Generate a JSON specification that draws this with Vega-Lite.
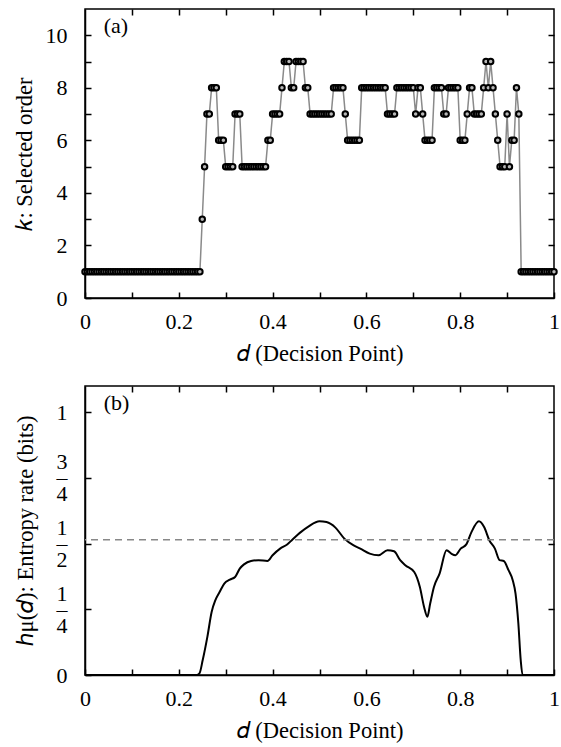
{
  "$schema": "https://vega.github.io/schema/vega-lite/v6.json",
  "padding": {"left": 12, "top": 7, "right": 0, "bottom": 0},
  "spacing": 18,
  "align": "all",
  "config": {
    "font": "Liberation Serif",
    "view": {"stroke": "#000", "strokeWidth": 1.5},
    "axis": {
      "grid": false, "domainColor": "#000", "domainWidth": 1.5,
      "tickColor": "#000", "tickWidth": 1.5, "tickSize": -6,
      "labelFontSize": 22, "titleFontSize": 22.5, "titleFontWeight": "normal",
      "labelColor": "#000", "titleColor": "#000",
      "labelFont": "Liberation Serif", "titleFont": "Liberation Serif",
      "labelOverlap": false, "labelBound": false, "labelFlush": false
    }
  },
  "vconcat": [
    {
      "width": 469, "height": 289,
      "data": {"values": [
        {"d":0,"k":1},{"d":0.005,"k":1},{"d":0.01,"k":1},{"d":0.015,"k":1},{"d":0.02,"k":1},{"d":0.025,"k":1},{"d":0.03,"k":1},{"d":0.035,"k":1},{"d":0.04,"k":1},{"d":0.045,"k":1},
        {"d":0.05,"k":1},{"d":0.055,"k":1},{"d":0.06,"k":1},{"d":0.065,"k":1},{"d":0.07,"k":1},{"d":0.075,"k":1},{"d":0.08,"k":1},{"d":0.085,"k":1},{"d":0.09,"k":1},{"d":0.095,"k":1},
        {"d":0.1,"k":1},{"d":0.105,"k":1},{"d":0.11,"k":1},{"d":0.115,"k":1},{"d":0.12,"k":1},{"d":0.125,"k":1},{"d":0.13,"k":1},{"d":0.135,"k":1},{"d":0.14,"k":1},{"d":0.145,"k":1},
        {"d":0.15,"k":1},{"d":0.155,"k":1},{"d":0.16,"k":1},{"d":0.165,"k":1},{"d":0.17,"k":1},{"d":0.175,"k":1},{"d":0.18,"k":1},{"d":0.185,"k":1},{"d":0.19,"k":1},{"d":0.195,"k":1},
        {"d":0.2,"k":1},{"d":0.205,"k":1},{"d":0.21,"k":1},{"d":0.215,"k":1},{"d":0.22,"k":1},{"d":0.225,"k":1},{"d":0.23,"k":1},{"d":0.235,"k":1},{"d":0.24,"k":1},{"d":0.245,"k":1},
        {"d":0.25,"k":3},{"d":0.255,"k":5},{"d":0.26,"k":7},{"d":0.265,"k":7},{"d":0.27,"k":8},{"d":0.275,"k":8},{"d":0.28,"k":8},{"d":0.285,"k":6},{"d":0.29,"k":6},{"d":0.295,"k":6},
        {"d":0.3,"k":5},{"d":0.305,"k":5},{"d":0.31,"k":5},{"d":0.315,"k":5},{"d":0.32,"k":7},{"d":0.325,"k":7},{"d":0.33,"k":7},{"d":0.335,"k":5},{"d":0.34,"k":5},{"d":0.345,"k":5},
        {"d":0.35,"k":5},{"d":0.355,"k":5},{"d":0.36,"k":5},{"d":0.365,"k":5},{"d":0.37,"k":5},{"d":0.375,"k":5},{"d":0.38,"k":5},{"d":0.385,"k":5},{"d":0.39,"k":6},{"d":0.395,"k":6},
        {"d":0.4,"k":7},{"d":0.405,"k":7},{"d":0.41,"k":7},{"d":0.415,"k":7},{"d":0.42,"k":8},{"d":0.425,"k":9},{"d":0.43,"k":9},{"d":0.435,"k":9},{"d":0.44,"k":8},{"d":0.445,"k":8},
        {"d":0.45,"k":9},{"d":0.455,"k":9},{"d":0.46,"k":9},{"d":0.465,"k":9},{"d":0.47,"k":8},{"d":0.475,"k":8},{"d":0.48,"k":7},{"d":0.485,"k":7},{"d":0.49,"k":7},{"d":0.495,"k":7},
        {"d":0.5,"k":7},{"d":0.505,"k":7},{"d":0.51,"k":7},{"d":0.515,"k":7},{"d":0.52,"k":7},{"d":0.525,"k":7},{"d":0.53,"k":8},{"d":0.535,"k":8},{"d":0.54,"k":8},{"d":0.545,"k":8},
        {"d":0.55,"k":8},{"d":0.555,"k":7},{"d":0.56,"k":6},{"d":0.565,"k":6},{"d":0.57,"k":6},{"d":0.575,"k":6},{"d":0.58,"k":6},{"d":0.585,"k":6},{"d":0.59,"k":8},{"d":0.595,"k":8},
        {"d":0.6,"k":8},{"d":0.605,"k":8},{"d":0.61,"k":8},{"d":0.615,"k":8},{"d":0.62,"k":8},{"d":0.625,"k":8},{"d":0.63,"k":8},{"d":0.635,"k":8},{"d":0.64,"k":8},{"d":0.645,"k":7},
        {"d":0.65,"k":7},{"d":0.655,"k":7},{"d":0.66,"k":7},{"d":0.665,"k":8},{"d":0.67,"k":8},{"d":0.675,"k":8},{"d":0.68,"k":8},{"d":0.685,"k":8},{"d":0.69,"k":8},{"d":0.695,"k":8},
        {"d":0.7,"k":8},{"d":0.705,"k":7},{"d":0.71,"k":8},{"d":0.715,"k":8},{"d":0.72,"k":7},{"d":0.725,"k":6},{"d":0.73,"k":6},{"d":0.735,"k":6},{"d":0.74,"k":6},{"d":0.745,"k":8},
        {"d":0.75,"k":8},{"d":0.755,"k":8},{"d":0.76,"k":8},{"d":0.765,"k":7},{"d":0.77,"k":7},{"d":0.775,"k":8},{"d":0.78,"k":8},{"d":0.785,"k":8},{"d":0.79,"k":8},{"d":0.795,"k":8},
        {"d":0.8,"k":6},{"d":0.805,"k":6},{"d":0.81,"k":6},{"d":0.815,"k":7},{"d":0.82,"k":8},{"d":0.825,"k":8},{"d":0.83,"k":7},{"d":0.835,"k":7},{"d":0.84,"k":7},{"d":0.845,"k":7},
        {"d":0.85,"k":8},{"d":0.855,"k":9},{"d":0.86,"k":8},{"d":0.865,"k":9},{"d":0.87,"k":8},{"d":0.875,"k":7},{"d":0.88,"k":6},{"d":0.885,"k":5},{"d":0.89,"k":5},{"d":0.895,"k":5},
        {"d":0.9,"k":7},{"d":0.905,"k":5},{"d":0.91,"k":6},{"d":0.915,"k":6},{"d":0.92,"k":8},{"d":0.925,"k":7},{"d":0.93,"k":1},{"d":0.935,"k":1},{"d":0.94,"k":1},{"d":0.945,"k":1},
        {"d":0.95,"k":1},{"d":0.955,"k":1},{"d":0.96,"k":1},{"d":0.965,"k":1},{"d":0.97,"k":1},{"d":0.975,"k":1},{"d":0.98,"k":1},{"d":0.985,"k":1},{"d":0.99,"k":1},{"d":0.995,"k":1},
        {"d":1,"k":1}
      ]},
      "layer": [
        {
          "mark": {"type": "line", "color": "#8a8a8a", "strokeWidth": 1.5},
          "encoding": {
            "x": {"field": "d", "type": "quantitative", "scale": {"domain": [0, 1], "nice": false},
              "axis": {"values": [0,0.1,0.2,0.3,0.4,0.5,0.6,0.7,0.8,0.9,1], "format": ".1~f",
                "labelExpr": "round(datum.value*10)%2==0 ? datum.label : ''",
                "labelFont": "Liberation Serif", "titleFont": "Liberation Serif",
                "title": "𝑑 (Decision Point)", "labelPadding": 19, "titlePadding": 10}},
            "y": {"field": "k", "type": "quantitative", "scale": {"domain": [0, 11], "nice": false},
              "axis": {"values": [0,1,2,3,4,5,6,7,8,9,10],
                "labelExpr": "datum.value%2==0 ? datum.label : ''",
                "labelFont": "Liberation Serif", "titleFont": "Liberation Serif",
                "title": "𝑘: Selected order", "labelPadding": 24, "titlePadding": 9}}
          }
        },
        {
          "mark": {"type": "point", "shape": "circle", "filled": true, "fill": "#b8b8b8", "stroke": "#000", "strokeWidth": 2, "size": 30, "opacity": 1},
          "encoding": {
            "x": {"field": "d", "type": "quantitative",
              "axis": {"orient": "top", "values": [0.1,0.2,0.3,0.4,0.5,0.6,0.7,0.8,0.9], "labels": false, "title": null, "domain": false}},
            "y": {"field": "k", "type": "quantitative",
              "axis": {"orient": "right", "values": [1,2,3,4,5,6,7,8,9,10], "labels": false, "title": null, "domain": false}}
          }
        },
        {
          "data": {"values": [{}]},
          "mark": {"type": "text", "text": "(a)", "align": "left", "baseline": "middle", "fontSize": 22, "font": "Liberation Serif", "color": "#000"},
          "encoding": {
            "x": {"datum": 0.04, "type": "quantitative", "axis": null},
            "y": {"datum": 10.35, "type": "quantitative", "axis": null}
          }
        }
      ],
      "resolve": {"axis": {"x": "independent", "y": "independent"}}
    },
    {
      "width": 469, "height": 289,
      "layer": [
        {
          "data": {"values": [
            {"d":0,"h":0},{"d":0.238,"h":0},{"d":0.244,"h":0.006},{"d":0.251,"h":0.057},{"d":0.261,"h":0.146},
            {"d":0.27,"h":0.24},{"d":0.278,"h":0.285},{"d":0.287,"h":0.316},{"d":0.297,"h":0.348},{"d":0.309,"h":0.363},
            {"d":0.32,"h":0.373},{"d":0.33,"h":0.405},{"d":0.339,"h":0.421},{"d":0.354,"h":0.434},{"d":0.37,"h":0.437},
            {"d":0.389,"h":0.434},{"d":0.4,"h":0.456},{"d":0.416,"h":0.481},{"d":0.431,"h":0.497},{"d":0.442,"h":0.515},
            {"d":0.458,"h":0.541},{"d":0.477,"h":0.566},{"d":0.5,"h":0.585},{"d":0.515,"h":0.582},{"d":0.534,"h":0.561},
            {"d":0.553,"h":0.519},{"d":0.572,"h":0.494},{"d":0.587,"h":0.481},{"d":0.607,"h":0.462},{"d":0.626,"h":0.456},
            {"d":0.645,"h":0.475},{"d":0.659,"h":0.471},{"d":0.672,"h":0.437},{"d":0.683,"h":0.418},{"d":0.702,"h":0.392},
            {"d":0.714,"h":0.335},{"d":0.723,"h":0.259},{"d":0.73,"h":0.222},{"d":0.736,"h":0.272},{"d":0.744,"h":0.335},
            {"d":0.756,"h":0.386},{"d":0.771,"h":0.475},{"d":0.781,"h":0.462},{"d":0.79,"h":0.456},{"d":0.801,"h":0.481},
            {"d":0.813,"h":0.497},{"d":0.824,"h":0.544},{"d":0.84,"h":0.585},{"d":0.851,"h":0.563},{"d":0.862,"h":0.513},
            {"d":0.874,"h":0.481},{"d":0.884,"h":0.437},{"d":0.893,"h":0.434},{"d":0.903,"h":0.399},{"d":0.912,"h":0.361},
            {"d":0.918,"h":0.31},{"d":0.924,"h":0.196},{"d":0.929,"h":0.057},{"d":0.933,"h":0},{"d":1,"h":0}
          ]},
          "mark": {"type": "line", "color": "#000", "strokeWidth": 2, "interpolate": "monotone"},
          "encoding": {
            "x": {"field": "d", "type": "quantitative", "scale": {"domain": [0, 1], "nice": false},
              "axis": {"values": [0,0.1,0.2,0.3,0.4,0.5,0.6,0.7,0.8,0.9,1], "format": ".1~f",
                "labelExpr": "round(datum.value*10)%2==0 ? datum.label : ''",
                "labelFont": "Liberation Serif", "titleFont": "Liberation Serif",
                "title": "𝑑 (Decision Point)", "labelPadding": 19, "titlePadding": 10}},
            "y": {"field": "h", "type": "quantitative", "scale": {"domain": [0, 1.1], "nice": false},
              "axis": {"values": [0, 0.25, 0.5, 0.75, 1], "labelLineHeight": 16, "labelOffset": -16,
                "labelExpr": "datum.value == 0.25 ? ['1','–','4'] : datum.value == 0.5 ? ['1','–','2'] : datum.value == 0.75 ? ['3','–','4'] : datum.value == 1 ? ['','1'] : ['','0']",
                "labelFont": "Liberation Serif", "titleFont": "Liberation Serif",
                "title": "ℎμ(𝑑): Entropy rate (bits)", "labelPadding": 24, "titlePadding": 19}}
          }
        },
        {
          "data": {"values": [{}]},
          "mark": {"type": "rule", "color": "#888", "strokeWidth": 1.5, "strokeDash": [7, 5]},
          "encoding": {"y": {"datum": 0.515, "type": "quantitative", "axis": null}}
        },
        {
          "data": {"values": [{}]},
          "mark": {"type": "text", "text": "(b)", "align": "left", "baseline": "middle", "fontSize": 22, "font": "Liberation Serif", "color": "#000"},
          "encoding": {
            "x": {"datum": 0.04, "type": "quantitative",
              "axis": {"orient": "top", "values": [0.1,0.2,0.3,0.4,0.5,0.6,0.7,0.8,0.9], "labels": false, "title": null, "domain": false}},
            "y": {"datum": 1.035, "type": "quantitative",
              "axis": {"orient": "right", "values": [0.25, 0.5, 0.75, 1], "labels": false, "title": null, "domain": false}}
          }
        }
      ],
      "resolve": {"axis": {"x": "independent", "y": "independent"}}
    }
  ]
}
